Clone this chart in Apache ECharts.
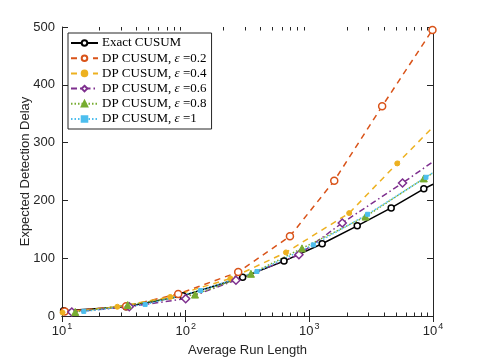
<!DOCTYPE html>
<html>
<head>
<meta charset="utf-8">
<script src="https://cdn.jsdelivr.net/npm/echarts@6/dist/echarts.min.js"></script>
<style>
  html, body { margin: 0; padding: 0; background: #fff; }
  #chart { width: 478px; height: 359px; }
</style>
</head>
<body>
<div id="chart"></div>
<script>
// data: [ARL, delay]
const exactCusum = [[10.3, 9], [33, 16], [95, 35], [289, 67], [624, 95], [1270, 125], [2440, 156], [4590, 187], [8430, 220], [10000, 228]];
const dpEps02 = [[10.5, 8], [33, 17], [87, 38], [266, 76], [697, 138], [1590, 234], [3880, 363], [9900, 495]];
const dpEps04 = [[10.1, 6], [28, 16], [75, 33], [230, 65], [647, 110], [2100, 178], [5140, 264], [10000, 327]];
const dpEps06 = [[12, 7], [35, 16], [100, 30], [255, 62], [824, 106], [1846, 161], [5670, 230], [10000, 267]];
const dpEps08 = [[12.8, 7], [34, 19], [119, 37], [337, 73], [872, 117], [2850, 172], [8430, 238], [10000, 247]];
const dpEps1 = [[15, 8], [47, 20], [132, 44], [377, 77], [1076, 123], [2960, 176], [8770, 240], [10000, 248]];

const seriesNames = ['Exact CUSUM', 'DP CUSUM, ε =0.2', 'DP CUSUM, ε =0.4', 'DP CUSUM, ε =0.6', 'DP CUSUM, ε =0.8', 'DP CUSUM, ε =1'];
const xTicks = [10, 100, 1000, 10000];

const axisColor = '#262626';
const sans = 'Liberation Sans';
const serif = 'Liberation Serif';
const W = 478, H = 359;
const gridPos = {left: 62, right: 45, top: 27, bottom: 43};

const chart = echarts.init(document.getElementById('chart'));

// last point only carries the line out to the frame
function tail(arr) {
    return arr.map((p, i) => i === arr.length - 1 && p[0] >= 10000 ? {value: p, symbol: 'none'} : p);
}

function mkSeries(name, data, color, dash, symbol, size, open) {
    return {
        name: name,
        type: 'line',
        data: data,
        symbol: symbol,
        symbolSize: size,
        showSymbol: true,
        clip: true,
        animation: false,
        lineStyle: {color: color, width: 1.5, type: dash},
        itemStyle: open
            ? {color: '#fff', borderColor: color, borderWidth: 1.5}
            : {color: color, borderColor: color, borderWidth: 1},
        emphasis: {disabled: true}
    };
}

chart.setOption({
    backgroundColor: '#fff',
    animation: false,
    grid: Object.assign({outerBoundsMode: 'none', containLabel: false}, gridPos),
    legend: {
        left: 68, top: 33,
        orient: 'vertical',
        itemWidth: 27,
        itemHeight: 7,
        itemGap: 1.2,
        padding: [3, 5, 3, 2],
        backgroundColor: '#fff',
        borderColor: '#262626',
        borderWidth: 1,
        borderRadius: 0,
        selectedMode: false,
        data: seriesNames,
        formatter: function (name) {
            if (name.indexOf('ε') < 0) return name;
            const parts = name.split('ε');
            return parts[0] + '{e|ε}' + parts[1];
        },
        textStyle: {
            fontFamily: serif, fontSize: 13, lineHeight: 14, color: '#000', padding: [0, 0, 0, -1],
            rich: {e: {fontFamily: serif, fontSize: 13, lineHeight: 14, fontStyle: 'italic', color: '#000'}}
        }
    },
    xAxis: [{
        type: 'log', logBase: 10, min: 10, max: 10000,
        name: 'Average Run Length', nameLocation: 'middle', nameGap: 28, nameMoveOverlap: false,
        nameTextStyle: {fontFamily: sans, fontSize: 13, color: axisColor},
        axisLine: {show: true, lineStyle: {color: axisColor, width: 1}},
        axisTick: {show: true, inside: true, length: 6, lineStyle: {color: axisColor}},
        splitLine: {show: false},
        axisLabel: {
            margin: 6,
            formatter: function (v) {
                const e = Math.round(Math.log10(v));
                return '{b|10}{s|' + e + '}';
            },
            rich: {
                b: {fontFamily: sans, fontSize: 13, color: axisColor},
                s: {fontFamily: sans, fontSize: 9, color: axisColor, padding: [0, 0, 10, 1]}
            }
        }
    }, {
        type: 'log', logBase: 10, min: 10, max: 10000, position: 'top',
        axisLine: {show: true, lineStyle: {color: axisColor, width: 1}},
        axisTick: {show: true, inside: true, length: 6, lineStyle: {color: axisColor}},
        axisLabel: {show: false},
        splitLine: {show: false}
    }],
    yAxis: [{
        type: 'value', min: 0, max: 500, interval: 100,
        name: 'Expected Detection Delay', nameLocation: 'middle', nameGap: 30, nameMoveOverlap: false,
        nameTextStyle: {fontFamily: sans, fontSize: 13, color: axisColor},
        axisLine: {show: true, lineStyle: {color: axisColor, width: 1}},
        axisTick: {show: true, inside: true, length: 6, lineStyle: {color: axisColor}},
        splitLine: {show: false},
        axisLabel: {fontFamily: sans, fontSize: 13, color: axisColor, margin: 7}
    }, {
        type: 'value', min: 0, max: 500, interval: 100, position: 'right',
        axisLine: {show: true, lineStyle: {color: axisColor, width: 1}},
        axisTick: {show: true, inside: true, length: 6, lineStyle: {color: axisColor}},
        axisLabel: {show: false},
        splitLine: {show: false}
    }],
    series: [
        mkSeries(seriesNames[0], tail(exactCusum), '#000000', 'solid', 'circle', 6, true),
        mkSeries(seriesNames[1], dpEps02, '#D95319', [6, 5], 'circle', 7, true),
        mkSeries(seriesNames[2], tail(dpEps04), '#EDB120', [6, 5], 'circle', 5, false),
        mkSeries(seriesNames[3], tail(dpEps06), '#7E2F8E', [6, 3, 1.5, 3], 'diamond', 8, true),
        mkSeries(seriesNames[4], tail(dpEps08), '#77AC30', [1.5, 2], 'triangle', 7, false),
        mkSeries(seriesNames[5], tail(dpEps1), '#4DBEEE', [1.5, 2], 'rect', 4, false)
    ]
});

// minor log ticks (2..9 per decade) on bottom and top frame
const minorTicks = [];
for (let d = 0; d < xTicks.length - 1; d++) {
    for (let k = 2; k <= 9; k++) minorTicks.push(xTicks[d] * k);
}
const yBottom = H - gridPos.bottom;
const yTop = gridPos.top;
const gfx = [];
minorTicks.forEach(v => {
    const px = Math.round(chart.convertToPixel({xAxisIndex: 0}, v)) + 0.5;
    gfx.push({type: 'line', silent: true, z: 10, shape: {x1: px, y1: yBottom, x2: px, y2: yBottom - 3.5}, style: {stroke: axisColor, lineWidth: 1}});
    gfx.push({type: 'line', silent: true, z: 10, shape: {x1: px, y1: yTop, x2: px, y2: yTop + 3.5}, style: {stroke: axisColor, lineWidth: 1}});
});
chart.setOption({graphic: gfx});
</script>
</body>
</html>
